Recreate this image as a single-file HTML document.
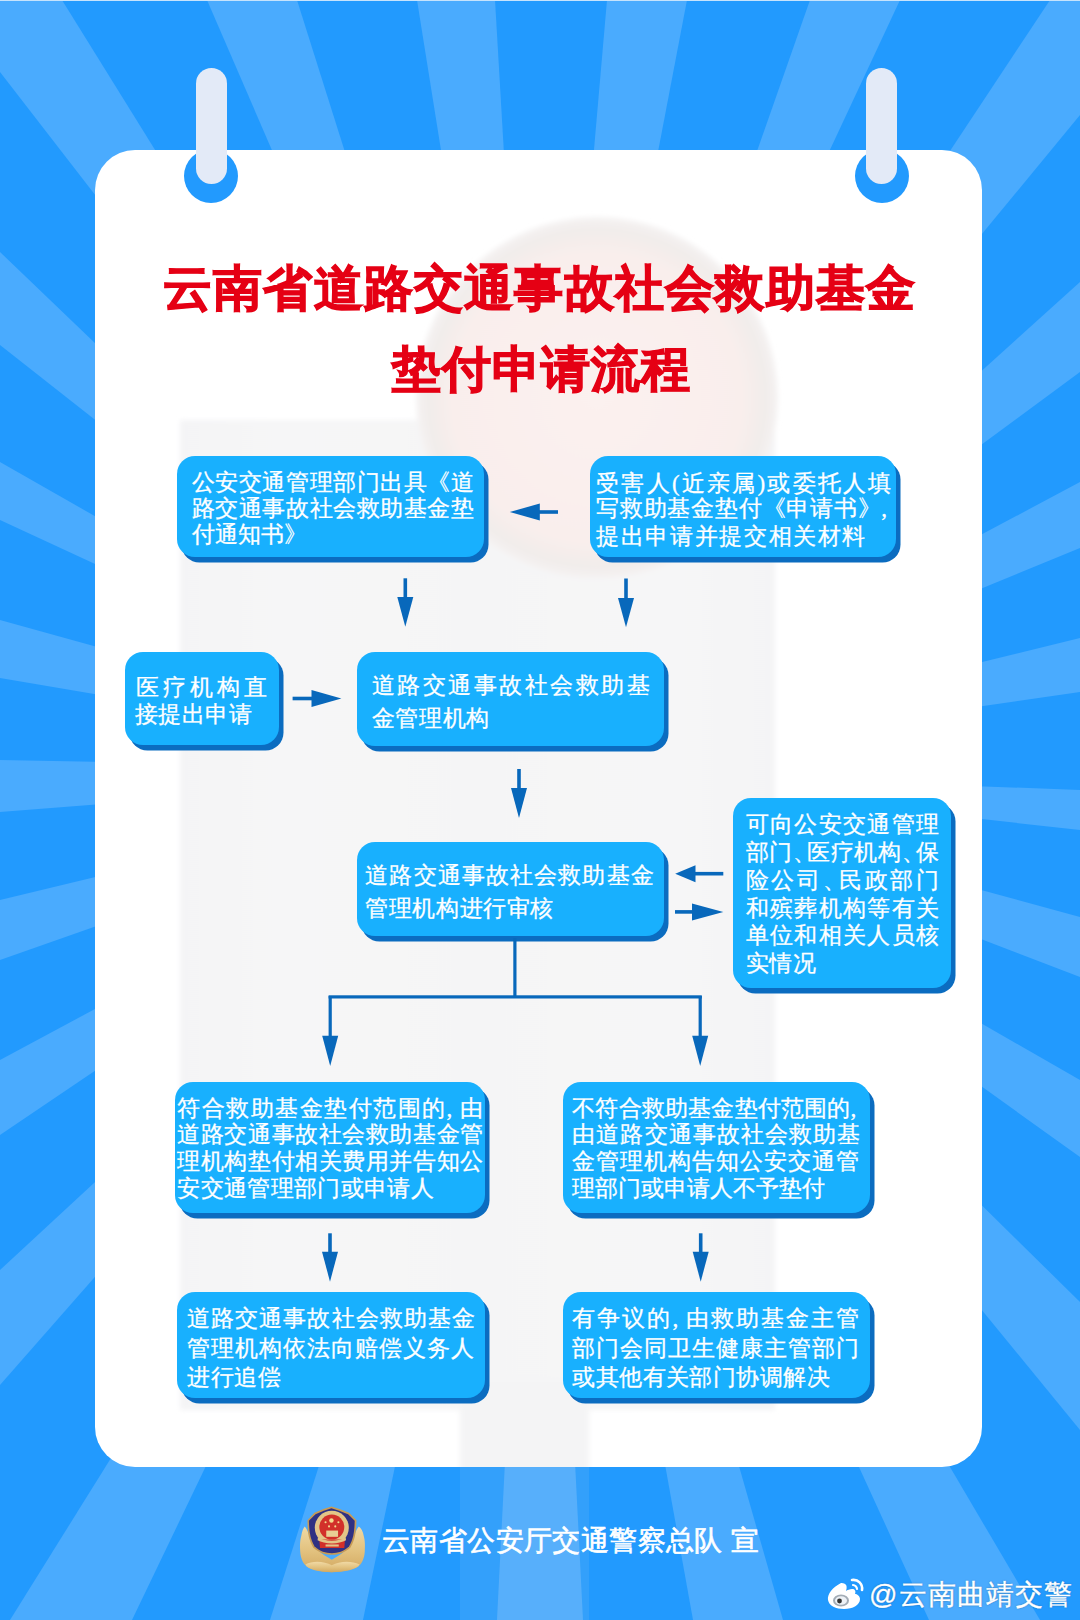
<!DOCTYPE html>
<html><head><meta charset="utf-8">
<style>
html,body{margin:0;padding:0;}
body{width:1080px;height:1620px;overflow:hidden;position:relative;background:#229afe;font-family:"Liberation Serif",serif;}
#bg{position:absolute;left:0;top:0;}
#card{position:absolute;left:94.5px;top:150px;width:887.5px;height:1317px;border-radius:40px;background:#fff;overflow:hidden;}
#wm{position:absolute;left:0;top:0;}
.ring{position:absolute;width:54px;height:54px;border-radius:50%;background:#229afe;}
.pill{position:absolute;width:31px;height:116px;border-radius:15.5px;background:#e3eaf7;}
.title{position:absolute;color:#e50014;font-weight:700;-webkit-text-stroke:1.2px #e50014;font-size:49px;line-height:49px;white-space:nowrap;text-align:justify;text-align-last:justify;}
.box{position:absolute;background:#18b0fe;border-radius:18px;box-shadow:4.5px 5.5px 0 #0b6cc0;}
.t{position:absolute;color:#fff;-webkit-text-stroke:0.3px #fff;font-size:23px;line-height:23px;white-space:nowrap;text-align:justify;text-align-last:justify;}
.t s{text-decoration:none;letter-spacing:-9px;}
.tl{text-align:left;text-align-last:left;}
#arrows{position:absolute;left:0;top:0;}
#footer{position:absolute;left:382px;top:1527px;letter-spacing:0.4px;color:#fff;font-family:"Liberation Sans",sans-serif;font-weight:400;-webkit-text-stroke:0.6px #fff;font-size:28px;line-height:28px;white-space:nowrap;}
#weibo{position:absolute;left:869px;top:1581px;letter-spacing:1.1px;-webkit-text-stroke:0.3px #fff;color:#fff;font-family:"Liberation Sans",sans-serif;font-size:28px;line-height:28px;white-space:nowrap;text-shadow:0 0 2px rgba(0,0,0,.35);}
</style></head><body>
<svg id="bg" width="1080" height="1620" viewBox="0 0 1080 1620"><g fill="#4aabfe">
<polygon points="540.0,770.0 -1295.7,-1602.8 -1042.3,-1778.8"/>
<polygon points="540.0,770.0 -650.8,-1983.5 -362.9,-2090.9"/>
<polygon points="540.0,770.0 66.8,-2192.4 365.0,-2224.9"/>
<polygon points="540.0,770.0 800.1,-2218.7 1102.6,-2176.8"/>
<polygon points="540.0,770.0 1532.7,-2061.0 1810.6,-1947.6"/>
<polygon points="540.0,770.0 2196.6,-1731.1 2448.4,-1544.8"/>
<polygon points="540.0,770.0 2765.8,-1241.4 2954.9,-1009.9"/>
<polygon points="540.0,770.0 3187.1,-641.8 3314.7,-370.7"/>
<polygon points="540.0,770.0 3454.2,57.6 3509.2,341.1"/>
<polygon points="540.0,770.0 3537.9,881.0 3521.7,1101.3"/>
<polygon points="540.0,770.0 3434.7,1558.0 3341.2,1843.8"/>
<polygon points="540.0,770.0 3141.8,2263.6 2978.5,2517.6"/>
<polygon points="540.0,770.0 2677.1,2875.4 2439.7,3091.9"/>
<polygon points="540.0,770.0 2061.1,3355.8 1788.4,3497.9"/>
<polygon points="540.0,770.0 1364.6,3654.4 1071.5,3722.5"/>
<polygon points="540.0,770.0 691.6,3766.2 388.4,3766.2"/>
<polygon points="540.0,770.0 -71.6,3707.0 -368.2,3629.2"/>
<polygon points="540.0,770.0 -758.2,3474.6 -1047.3,3315.7"/>
<polygon points="540.0,770.0 -1439.4,3024.3 -1661.3,2808.2"/>
<polygon points="540.0,770.0 -1945.5,2450.0 -2103.0,2189.4"/>
<polygon points="540.0,770.0 -2289.9,1765.7 -2376.7,1472.2"/>
<polygon points="540.0,770.0 -2451.0,1002.6 -2459.5,714.5"/>
<polygon points="540.0,770.0 -2417.4,266.1 -2350.6,-32.9"/>
<polygon points="540.0,770.0 -2182.4,-490.4 -2065.9,-716.3"/>
<polygon points="540.0,770.0 -1817.4,-1085.4 -1625.0,-1306.8"/>

</g></svg>
<div style="position:absolute;left:0;top:0;width:1080px;height:1px;background:#c6e3fc"></div>
<div id="card"></div>
<div style="position:absolute;left:460px;top:1467px;width:129px;height:153px;background:rgba(205,215,225,0.10)"></div>
<svg id="wm" width="1080" height="1620" viewBox="0 0 1080 1620" style="position:absolute;left:0;top:0">
<defs>
<clipPath id="cc"><rect x="94.5" y="150" width="887.5" height="1317" rx="40"/></clipPath>
<linearGradient id="hg" x1="0" x2="1" y1="0" y2="0">
<stop offset="0" stop-color="#f4f4f6"/><stop offset="0.18" stop-color="#f6f6f7"/><stop offset="0.5" stop-color="#f5f5f6"/><stop offset="0.82" stop-color="#f6f6f7"/><stop offset="1" stop-color="#f4f4f6"/>
</linearGradient>
<radialGradient id="lg" cx="0.5" cy="0.5" r="0.5">
<stop offset="0" stop-color="#fbf1ef"/><stop offset="0.8" stop-color="#f9eeec"/><stop offset="0.93" stop-color="#f1ecea"/><stop offset="1" stop-color="#f5f3f3"/>
</radialGradient>
<filter id="bl" x="-20%" y="-20%" width="140%" height="140%"><feGaussianBlur stdDeviation="2.5"/></filter>
</defs>
<g clip-path="url(#cc)"><g filter="url(#bl)">
<rect x="180" y="420" width="595" height="990" fill="url(#hg)"/>
<rect x="460" y="1380" width="129" height="120" fill="#f4f4f5"/>
<circle cx="597" cy="398" r="181" fill="url(#lg)"/>
</g></g></svg>
<div class="ring" style="left:184px;top:149px"></div>
<div class="ring" style="left:855px;top:149px"></div>
<div class="pill" style="left:196px;top:68px"></div>
<div class="pill" style="left:866px;top:68px"></div>
<div class="title" style="left:163px;top:264px;width:752px">云南省道路交通事故社会救助基金</div>
<div class="title" style="left:392px;top:345px;width:298px">垫付申请流程</div>

<div class="box" style="left:177px;top:456px;width:307.0px;height:101.0px"></div>
<div class="box" style="left:590px;top:456px;width:306.0px;height:101.0px"></div>
<div class="box" style="left:125px;top:652px;width:153.5px;height:92.5px"></div>
<div class="box" style="left:356.5px;top:652px;width:307.0px;height:93.5px"></div>
<div class="box" style="left:356.7px;top:841.5px;width:307.3px;height:94.1px"></div>
<div class="box" style="left:733px;top:798px;width:218.3px;height:190.0px"></div>
<div class="box" style="left:174.5px;top:1081.7px;width:310.5px;height:131.6px"></div>
<div class="box" style="left:562.7px;top:1081.7px;width:307.3px;height:131.6px"></div>
<div class="box" style="left:177.3px;top:1291.7px;width:307.7px;height:106.6px"></div>
<div class="box" style="left:562.7px;top:1291.7px;width:307.3px;height:106.6px"></div>
<div class="t" style="left:191.9px;top:470.9px;width:281.8px">公安交通管理部门出具《道</div>
<div class="t" style="left:191.9px;top:496.7px;width:281.8px">路交通事故社会救助基金垫</div>
<div class="t tl" style="left:191.9px;top:523.2px">付通知书》</div>
<div class="t" style="left:596.2px;top:471.5px;width:295.3px">受害人(近亲属)或委托人填</div>
<div class="t" style="left:596.2px;top:497.3px;width:290.9px">写救助基金垫付《申请书》,</div>
<div class="t" style="left:596.2px;top:524.6px;width:269.3px">提出申请并提交相关材料</div>
<div class="t" style="left:135.6px;top:675.6px;width:131.3px">医疗机构直</div>
<div class="t" style="left:135.1px;top:703.0px;width:116.6px">接提出申请</div>
<div class="t" style="left:371.9px;top:674.4px;width:278.1px">道路交通事故社会救助基</div>
<div class="t" style="left:371.9px;top:707.4px;width:117.3px">金管理机构</div>
<div class="t" style="left:365.3px;top:864.4px;width:288.4px">道路交通事故社会救助基金</div>
<div class="t" style="left:365.3px;top:897.4px;width:187.9px">管理机构进行审核</div>
<div class="t" style="left:745.6px;top:813.1px;width:193.5px">可向公安交通管理</div>
<div class="t" style="left:745.6px;top:840.9px;width:193.5px">部门<s>、</s>医疗机构<s>、</s>保</div>
<div class="t" style="left:745.6px;top:868.7px;width:193.5px">险公司<s>、</s>民政部门</div>
<div class="t" style="left:745.6px;top:896.5px;width:193.5px">和殡葬机构等有关</div>
<div class="t" style="left:745.6px;top:924.3px;width:193.5px">单位和相关人员核</div>
<div class="t" style="left:745.6px;top:952.0px;width:70.8px">实情况</div>
<div class="t" style="left:177.3px;top:1096.9px;width:305.3px">符合救助基金垫付范围的, 由</div>
<div class="t" style="left:177.3px;top:1122.9px;width:305.9px">道路交通事故社会救助基金管</div>
<div class="t" style="left:177.3px;top:1149.6px;width:305.9px">理机构垫付相关费用并告知公</div>
<div class="t" style="left:177.3px;top:1176.9px;width:256.4px">安交通管理部门或申请人</div>
<div class="t" style="left:572.3px;top:1096.9px;width:284.0px">不符合救助基金垫付范围的,</div>
<div class="t" style="left:572.3px;top:1122.9px;width:287.9px">由道路交通事故社会救助基</div>
<div class="t" style="left:572.3px;top:1149.6px;width:287.0px">金管理机构告知公安交通管</div>
<div class="t" style="left:572.3px;top:1176.9px;width:251.4px">理部门或申请人不予垫付</div>
<div class="t" style="left:186.8px;top:1306.9px;width:288.4px">道路交通事故社会救助基金</div>
<div class="t" style="left:186.8px;top:1336.5px;width:287.5px">管理机构依法向赔偿义务人</div>
<div class="t" style="left:186.8px;top:1366.1px;width:94.3px">进行追偿</div>
<div class="t" style="left:572.3px;top:1306.9px;width:287.0px">有争议的, 由救助基金主管</div>
<div class="t" style="left:572.3px;top:1336.5px;width:287.0px">部门会同卫生健康主管部门</div>
<div class="t" style="left:572.3px;top:1366.1px;width:257.3px">或其他有关部门协调解决</div>
<svg id="arrows" width="1080" height="1620" viewBox="0 0 1080 1620"><g fill="#0868bb">
<rect x="538.8" y="510.2" width="19.2" height="3.6"/><polygon points="509.8,512 539.8,503.5 539.8,520.5"/>
<rect x="403.5" y="578.3" width="3.6" height="19.7"/><polygon points="397.3,597 413.3,597 405.3,626.8"/>
<rect x="624.2" y="578.5" width="3.6" height="20.5"/><polygon points="618.0,598 634.0,598 626.0,627.3"/>
<rect x="292.6" y="696.7" width="19.9" height="3.6"/><polygon points="341.4,698.5 311.5,690.0 311.5,707.0"/>
<rect x="517.2" y="769" width="3.6" height="20.0"/><polygon points="511.0,788 527.0,788 519.0,818"/>
<rect x="694.5" y="871.9" width="28.8" height="3.6"/><polygon points="675.2,873.7 695.5,865.2 695.5,882.2"/>
<rect x="675" y="910.1" width="18.0" height="3.6"/><polygon points="723.3,911.9 692,903.4 692,920.4"/>
<rect x="513.3" y="938" width="3.2" height="60"/>
<rect x="328.6" y="995.3" width="373.2" height="3.2"/>
<rect x="328.6" y="996" width="3.2" height="40.8"/><polygon points="322.2,1035.8 338.2,1035.8 330.2,1066.1"/>
<rect x="698.6" y="996" width="3.2" height="40.8"/><polygon points="692.2,1035.8 708.2,1035.8 700.2,1066.1"/>
<rect x="328.2" y="1233.3" width="3.6" height="19.4"/><polygon points="322.0,1251.7 338.0,1251.7 330.0,1281.7"/>
<rect x="698.9" y="1233.3" width="3.6" height="19.4"/><polygon points="692.7,1251.7 708.7,1251.7 700.7,1281.7"/>
</g></svg>
<svg id="emblem" width="75" height="78" viewBox="0 0 1080 1123" style="position:absolute;left:295px;top:1500px">
<defs>
<linearGradient id="gold" x1="0" y1="0" x2="0" y2="1"><stop offset="0" stop-color="#f0d9a4"/><stop offset="0.55" stop-color="#e2c17e"/><stop offset="1" stop-color="#d2a860"/></linearGradient>
</defs>
<path fill="url(#gold)" d="M530,1040 C400,1030 200,1010 140,930 C90,860 80,800 75,740 C70,650 70,600 90,520 C100,450 120,400 140,380 C180,420 210,520 250,620 C290,700 380,780 530,860 C680,780 770,700 810,620 C850,520 880,420 920,380 C950,400 980,450 990,520 C1010,600 1010,650 1005,740 C1000,800 990,860 940,930 C880,1010 660,1030 530,1040 Z"/>
<path fill="#c79b55" d="M525,95 L640,130 L780,185 L885,290 C880,450 870,560 800,680 C720,760 620,790 530,790 C440,790 340,760 260,680 C190,560 180,450 180,290 L280,185 L410,130 Z"/>
<path fill="#2f3183" d="M525,120 L635,155 L765,205 L860,300 C855,450 845,550 780,665 C705,740 615,765 530,765 C445,765 355,740 280,665 C215,550 205,450 200,300 L295,205 L415,155 Z"/>
<circle cx="530" cy="400" r="245" fill="#e3c587"/>
<circle cx="530" cy="390" r="180" fill="#d2302a"/>
<rect x="450" y="440" width="170" height="90" fill="#e8cf94"/>
<path fill="#d2302a" d="M350,570 L720,570 L710,690 L360,690 Z"/>
<path fill="#e3c587" d="M330,540 C420,600 640,600 730,540 L735,580 C640,640 420,640 325,580 Z"/>
<rect x="440" y="640" width="190" height="30" fill="#e3c587"/>
<circle cx="525" cy="295" r="32" fill="#f2da8e"/>
<circle cx="440" cy="320" r="15" fill="#f2da8e"/><circle cx="625" cy="320" r="15" fill="#f2da8e"/>
<circle cx="490" cy="380" r="15" fill="#f2da8e"/><circle cx="580" cy="380" r="15" fill="#f2da8e"/>
<path fill="url(#gold)" d="M150,930 C250,870 420,880 530,940 C640,880 810,870 930,930 C900,1000 700,1040 530,1040 C360,1040 170,1000 150,930 Z"/>
</svg>
<svg id="wbicon" width="42" height="36" viewBox="0 0 42 36" style="position:absolute;left:825px;top:1574px">
<path d="M16,9 C8,13 2,20 3,26 C4,32 11,35 19,35 C28,35 35,31 35,25 C35,22 32,20 30,20 C31,17 30,15 27,15 C25,15 22,16 21,17 C22,14 22,11 20,10 C19,9 17,9 16,9 Z" fill="#fff"/>
<ellipse cx="16" cy="26.5" rx="8" ry="6" fill="#5a6a7a" opacity="0.55"/>
<ellipse cx="16" cy="26.5" rx="6" ry="4.3" fill="#eef2f6"/>
<circle cx="14.5" cy="27" r="2.4" fill="#333"/>
<path d="M27,6 C33,5 38,10 37,16" fill="none" stroke="#fff" stroke-width="2.6" stroke-linecap="round"/>
<path d="M28,11 C30,11 32,13 32,15" fill="none" stroke="#fff" stroke-width="2.2" stroke-linecap="round"/>
</svg>

<div id="footer">云南省公安厅交通警察总队 宣</div>
<div id="weibo">@云南曲靖交警</div>
</body></html>
